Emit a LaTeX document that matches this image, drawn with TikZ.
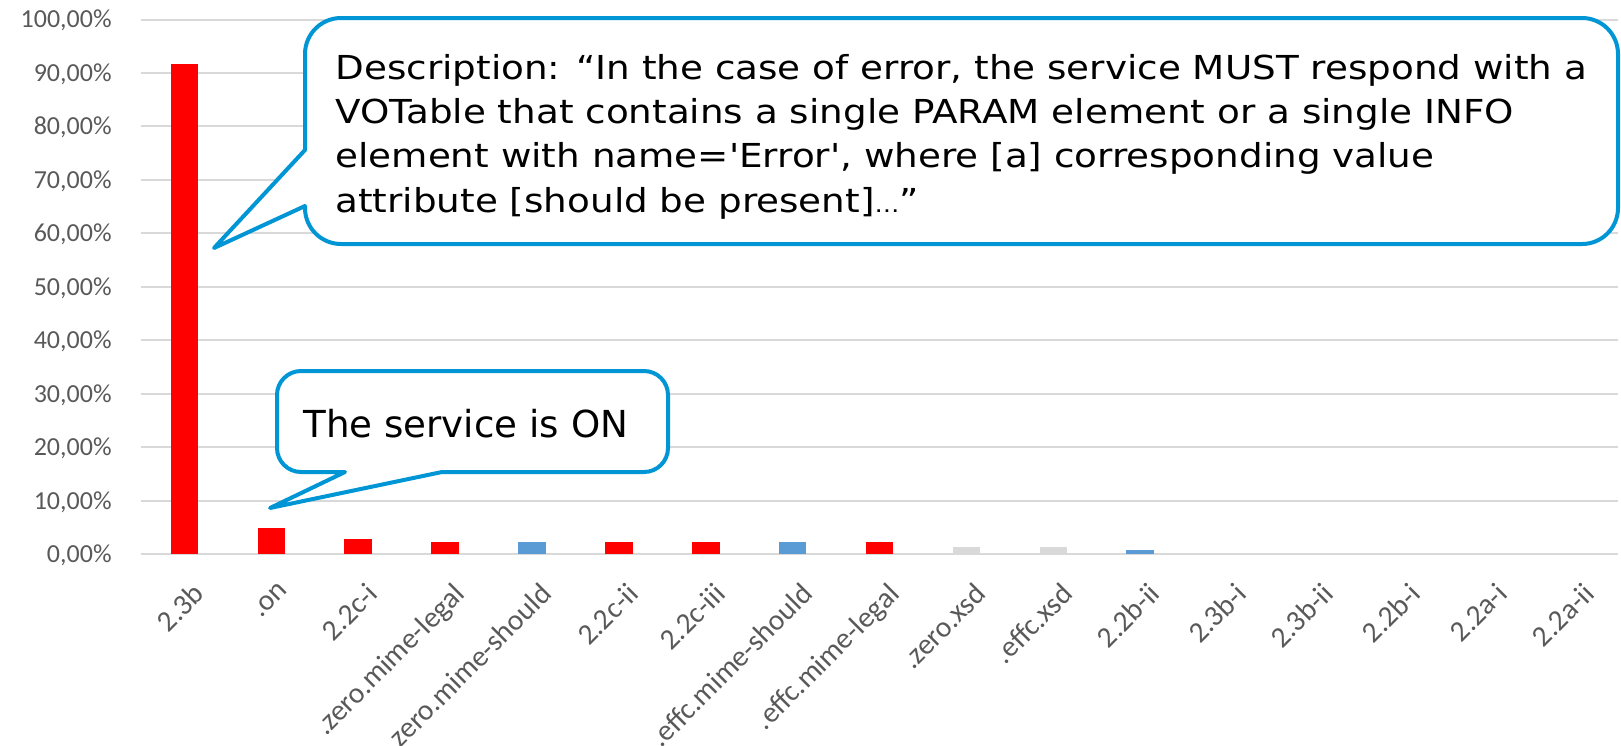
\documentclass[tikz,border=0pt]{standalone}
\usepackage{fontspec}
\setmainfont{Carlito}
\newfontfamily\calloutfont{DejaVu Sans}
\usepackage{tikz}

\definecolor{barRed}{HTML}{FF0000}
\definecolor{barBlue}{HTML}{5B9BD5}
\definecolor{barGrey}{HTML}{D9D9D9}
\definecolor{gridGrey}{HTML}{D9D9D9}
\definecolor{axisText}{HTML}{595959}
\definecolor{calloutBlue}{RGB}{0,150,214}

\tikzset{
	gridline/.style={draw=gridGrey, line width=1pt},
	ylab/.style={anchor=base east, inner sep=0pt, text=axisText, font=\fontsize{13}{16}\selectfont},
	xlab/.style={anchor=north east, rotate=45, inner sep=0pt, text=axisText, font=\fontsize{14.7}{16}\selectfont},
	callout/.style={draw=calloutBlue, fill=white, line width=2pt, line join=round},
}

\begin{document}
\begin{tikzpicture}[x=0.5pt, y=-0.5pt]
		
		\useasboundingbox (0,0) rectangle (1621,745);
		
		% Grid
		
		\draw[gridline] (141,554.0) -- (1618,554.0);
		\draw[gridline] (141,500.6) -- (1618,500.6);
		\draw[gridline] (141,447.1) -- (1618,447.1);
		\draw[gridline] (141,393.7) -- (1618,393.7);
		\draw[gridline] (141,340.2) -- (1618,340.2);
		\draw[gridline] (141,286.8) -- (1618,286.8);
		\draw[gridline] (141,233.3) -- (1618,233.3);
		\draw[gridline] (141,179.9) -- (1618,179.9);
		\draw[gridline] (141,126.4) -- (1618,126.4);
		\draw[gridline] (141,73.0) -- (1618,73.0);
		\draw[gridline] (141,19.5) -- (1618,19.5);
		
		% Axis labels
		
		\node[ylab] (y0) at (112,562.4) {0,00\%};
		\node[ylab] (y10) at (112,509.0) {10,00\%};
		\node[ylab] (y20) at (112,455.5) {20,00\%};
		\node[ylab] (y30) at (112,402.1) {30,00\%};
		\node[ylab] (y40) at (112,348.6) {40,00\%};
		\node[ylab] (y50) at (112,295.2) {50,00\%};
		\node[ylab] (y60) at (112,241.7) {60,00\%};
		\node[ylab] (y70) at (112,188.3) {70,00\%};
		\node[ylab] (y80) at (112,134.8) {80,00\%};
		\node[ylab] (y90) at (112,81.4) {90,00\%};
		\node[ylab] (y100) at (112,27.9) {100,00\%};
		
		% Bars
		
		\fill[barRed] (170.6,64.3) rectangle (198.2,554);
		\fill[barRed] (257.5,528.3) rectangle (285.1,554);
		\fill[barRed] (344.4,539.3) rectangle (372.0,554);
		\fill[barRed] (431.3,542.2) rectangle (458.9,554);
		\fill[barBlue] (518.2,542.2) rectangle (545.8,554);
		\fill[barRed] (605.0,542.2) rectangle (632.6,554);
		\fill[barRed] (691.9,542.2) rectangle (719.5,554);
		\fill[barBlue] (778.8,542.2) rectangle (806.4,554);
		\fill[barRed] (865.7,542.2) rectangle (893.3,554);
		\fill[barGrey] (952.6,547.0) rectangle (980.2,554);
		\fill[barGrey] (1039.5,547.0) rectangle (1067.1,554);
		\fill[barBlue] (1126.4,550.0) rectangle (1154.0,554);
		
		% Category labels
		
		\node[xlab] (c1) at (191.4,581) {2.3b};
		\node[xlab] (c2) at (278.3,581) {.on};
		\node[xlab] (c3) at (365.2,581) {2.2c-i};
		\node[xlab] (c4) at (452.1,581) {.zero.mime-legal};
		\node[xlab] (c5) at (539.0,581) {.zero.mime-should};
		\node[xlab] (c6) at (625.8,581) {2.2c-ii};
		\node[xlab] (c7) at (712.7,581) {2.2c-iii};
		\node[xlab] (c8) at (799.6,581) {.effc.mime-should};
		\node[xlab] (c9) at (886.5,581) {.effc.mime-legal};
		\node[xlab] (c10) at (973.4,581) {.zero.xsd};
		\node[xlab] (c11) at (1060.3,581) {.effc.xsd};
		\node[xlab] (c12) at (1147.2,581) {2.2b-ii};
		\node[xlab] (c13) at (1234.0,581) {2.3b-i};
		\node[xlab] (c14) at (1320.9,581) {2.3b-ii};
		\node[xlab] (c15) at (1407.8,581) {2.2b-i};
		\node[xlab] (c16) at (1494.7,581) {2.2a-i};
		\node[xlab] (c17) at (1581.6,581) {2.2a-ii};
		
		% Callouts
		
		\coordinate (descTip) at (214,248);
		\coordinate (onTip) at (270,508);
		
		\draw[callout] (305,150) -- (descTip) -- (305,206) -- (305,208)
		arc(180:90:36) -- (1582,244) arc(90:0:36) -- (1618,54)
		arc(0:-90:36) -- (341,18) arc(270:180:36) -- cycle;
		
		\draw[callout] (345,472) -- (301,472) arc(90:180:24) -- (277,395)
		arc(180:270:24) -- (644,371) arc(270:360:24) -- (668,448)
		arc(0:90:24) -- (442,472) -- (onTip) -- cycle;
		
		\node[anchor=north west, align=left, inner sep=0pt, xscale=1.13,
		font=\calloutfont\fontsize{16.5}{22.1}\selectfont]
		(descText) at (335,54) {Description: “In the case of error, the service MUST respond with a\\VOTable that contains a single PARAM element or a single INFO\\element with name='Error', where [a] corresponding value\\attribute [should be present]{\fontsize{11}{22.1}\selectfont…}”};
		
		\node[anchor=base west, inner sep=0pt,
		font=\calloutfont\fontsize{18.6}{22}\selectfont]
		(onText) at (303,437) {The service is ON};
		
\end{tikzpicture}
\end{document}
